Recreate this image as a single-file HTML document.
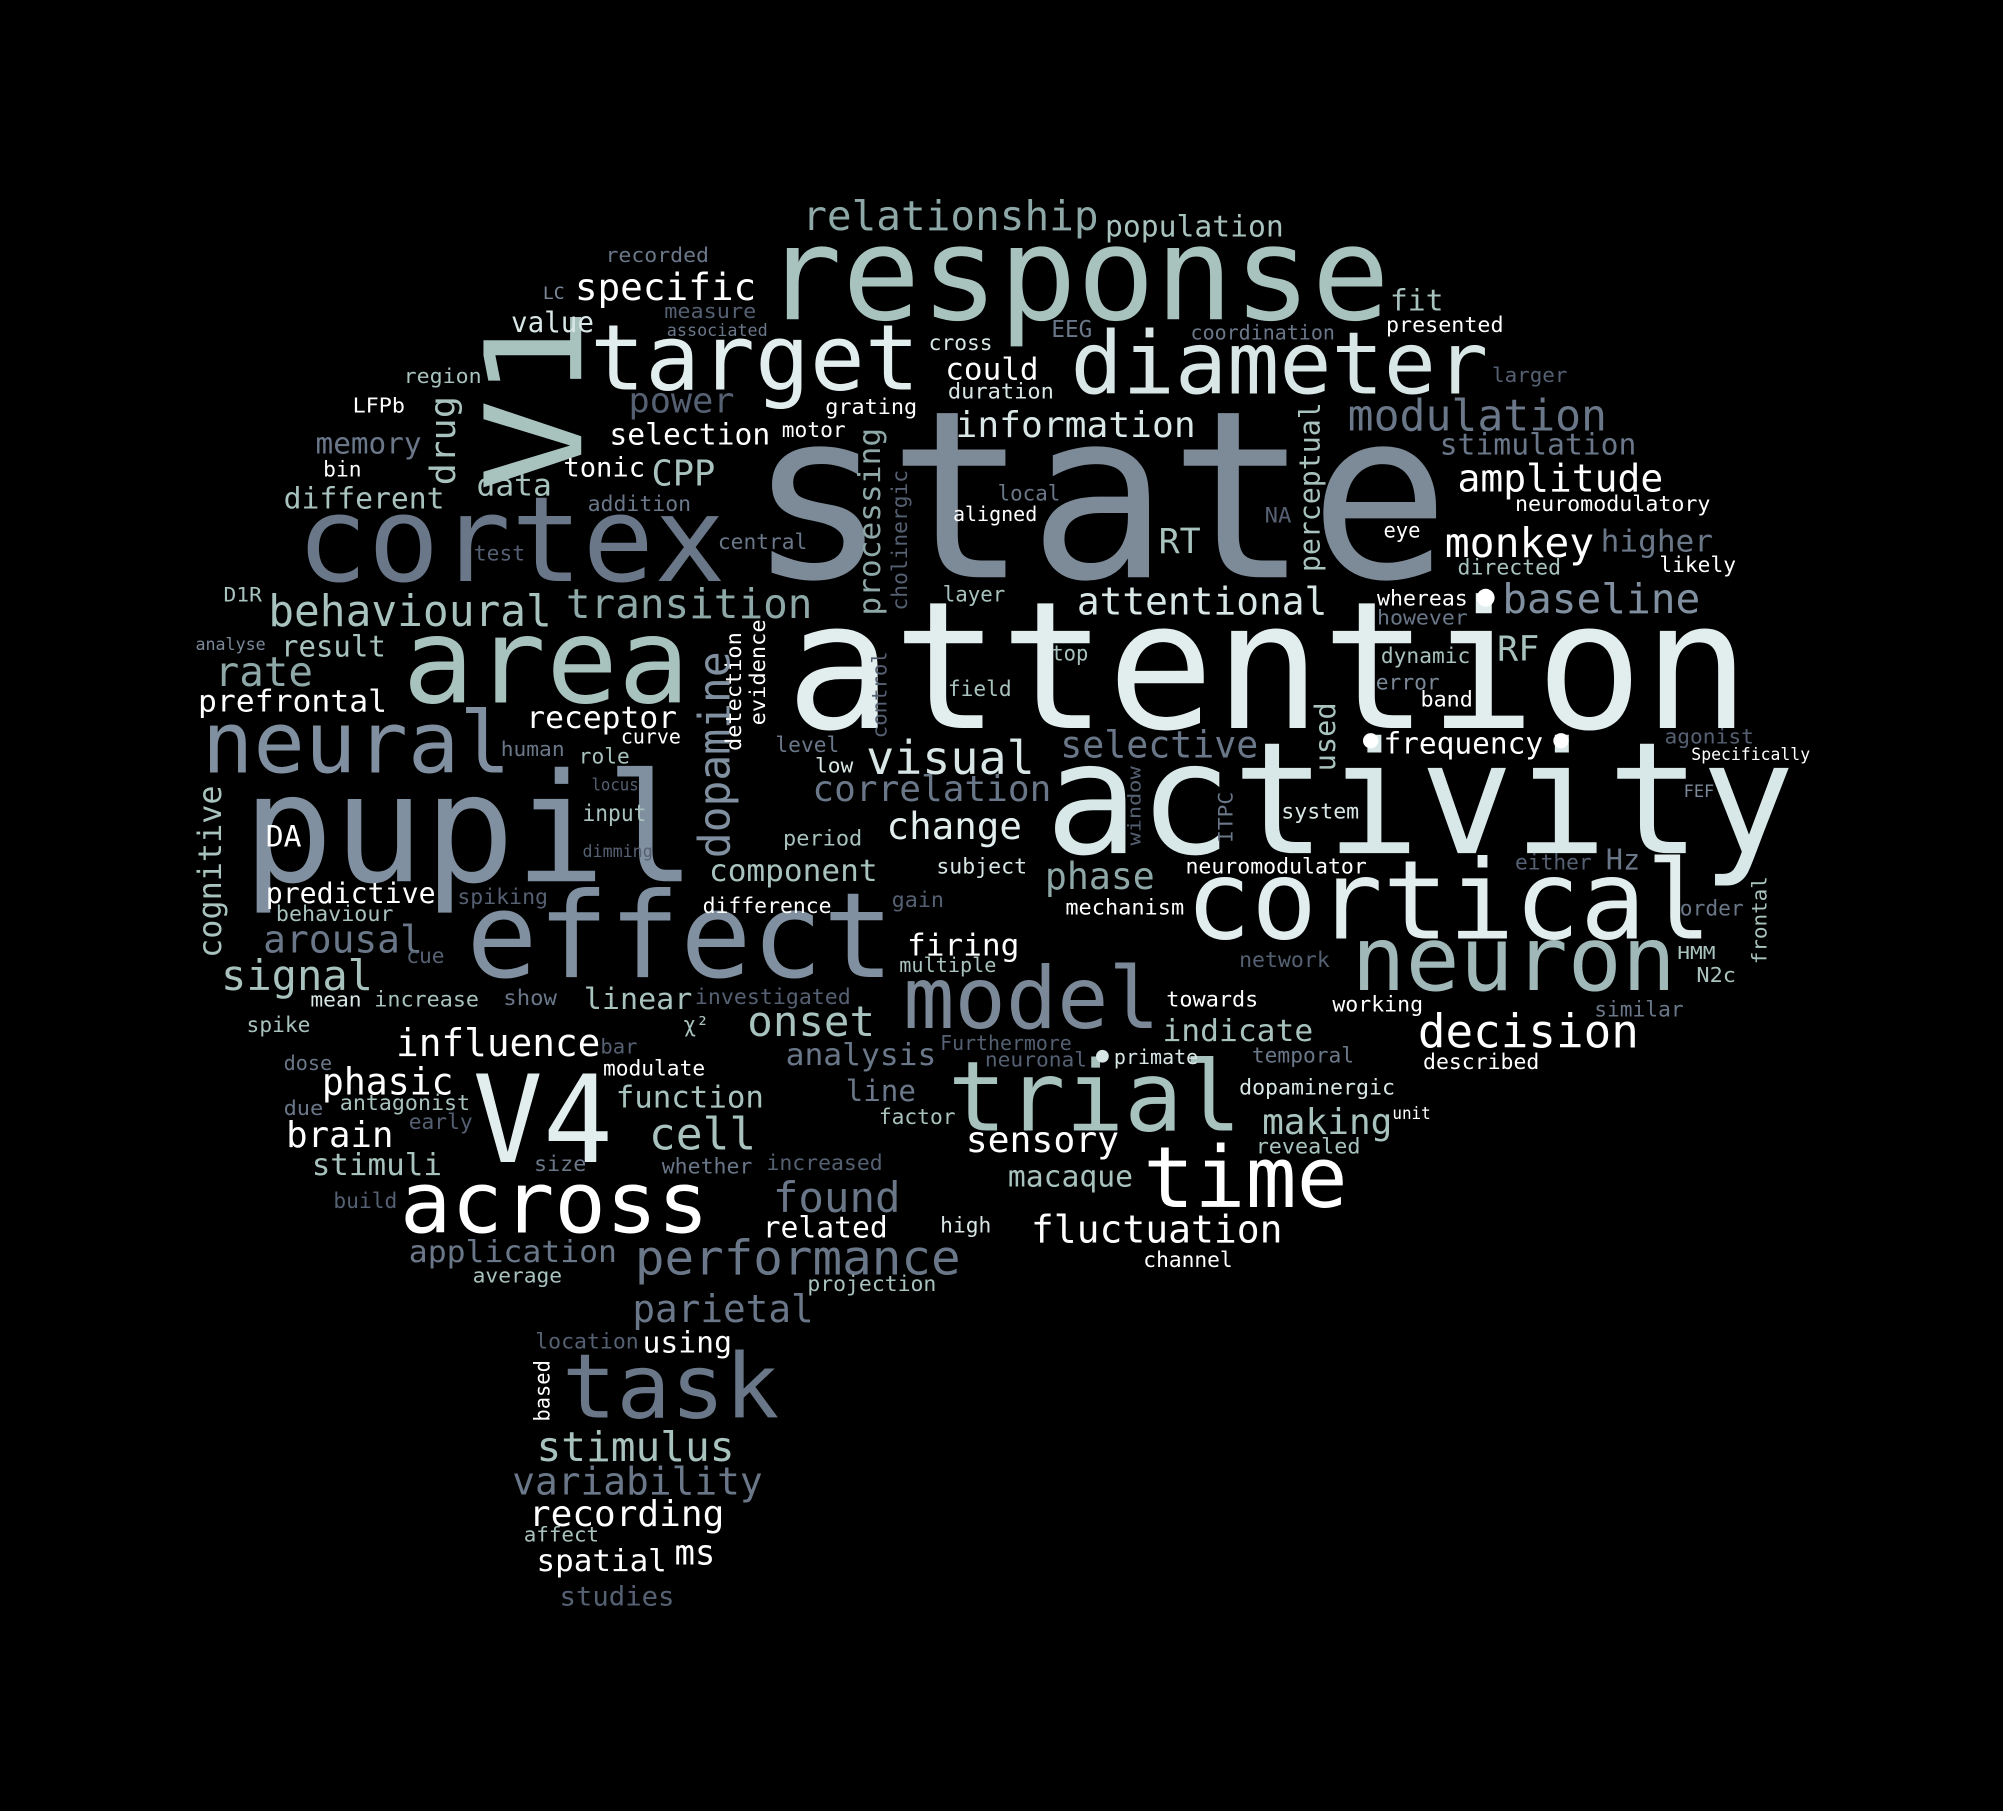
<!DOCTYPE html>
<html><head><meta charset="utf-8">
<style>
html,body{margin:0;padding:0;background:#000;}
svg{display:block;}
text{font-family:"DejaVu Sans Mono","Liberation Mono",monospace;}
</style></head>
<body>
<svg id="cloud" width="2003" height="1811" viewBox="0 0 1568 1418" preserveAspectRatio="none" xmlns="http://www.w3.org/2000/svg">
<rect width="1568" height="1418" fill="#000"/>
</svg>
<script>
// [text, x, y(baseline), length, fontSize, color, rotation]
const W = "#ffffff", L = "#e2eeee", T = "#a8c2be", S = "#8090a0", D = "#6a7789", K = "#556072";
const words = [
["state",585,452,550,183,"#7d8b99",0],
["attention",615,570,755,139,L,0],
["activity",818,668,587,122,"#d8e8e8",0],
["response",598,250,490,102,T,0],
["pupil",190,690,355,118,S,0],
["cortex",232,455,336,93,D,0],
["area",315,550,225,93,T,0],
["effect",365,765,335,93,S,0],
["cortical",928,735,412,86,L,0],
["neuron",1058,775,254,70,"#a0b8b8",0],
["trial",742,885,230,76,T,0],
["model",707,805,201,67,"#7a8898",0],
["diameter",838,308,327,68,"#d8e6e6",0],
["target",462,305,258,71,L,0],
["V1",455,385,145,105,T,-90],
["neural",158,605,242,67,S,0],
["V4",370,910,110,95,L,0],
["across",313,965,242,67,W,0],
["time",895,945,160,66,W,0],
["task",440,1110,170,70,D,0],
["decision",1110,820,173,36,W,0],
["relationship",628,180,232,32,"#8ea8a8",0],
["population",865,185,140,23,T,0],
["specific",450,235,142,29,W,0],
["value",400,260,65,22,"#d8e6e6",0],
["fit",1088,243,42,23,T,0],
["presented",1085,260,92,17,W,0],
["cross",727,274,50,17,"#d8e6e6",0],
["EEG",823,264,32,18,D,0],
["coordination",932,266,113,16,D,0],
["measure",520,249,72,16,K,0],
["associated",522,263,79,13,D,0],
["recorded",474,205,81,16,D,0],
["LC",425,234,17,13,"#7a8898",0],
["could",740,297,73,24,W,0],
["duration",742,312,83,17,"#d8e6e6",0],
["larger",1168,299,59,16,K,0],
["region",316,300,61,16,T,0],
["LFPb",276,323,41,16,W,0],
["power",492,323,83,27,K,0],
["grating",646,324,72,17,W,0],
["modulation",1055,337,203,34,D,0],
["information",748,342,188,28,"#d8e6e6",0],
["selection",477,348,126,23,W,0],
["motor",612,342,50,17,W,0],
["drug",356,380,70,27,T,-90],
["memory",247,355,83,23,D,0],
["stimulation",1127,356,154,23,D,0],
["processing",689,482,147,24,"#8ea8a8",-90],
["perceptual",1033,448,133,22,T,-90],
["bin",253,373,30,17,W,0],
["tonic",441,373,64,21,W,0],
["CPP",510,380,50,28,T,0],
["amplitude",1141,385,161,30,W,0],
["data",373,388,59,24,T,0],
["neuromodulatory",1186,400,153,17,W,0],
["cholinergic",710,478,110,17,K,-90],
["different",222,398,126,23,T,0],
["addition",460,400,81,17,D,0],
["local",781,392,49,17,D,0],
["aligned",746,408,66,16,W,0],
["NA",990,409,21,17,K,0],
["eye",1083,421,29,17,W,0],
["test",371,439,40,17,K,0],
["central",562,430,70,17,D,0],
["RT",907,433,33,27,T,0],
["monkey",1131,436,117,32,W,0],
["higher",1253,432,88,24,D,0],
["directed",1141,450,81,17,T,0],
["likely",1299,448,60,17,W,0],
["D1R",175,471,30,15,T,0],
["layer",738,471,49,17,T,0],
["behavioural",210,490,222,34,T,0],
["transition",443,484,193,32,"#8ea8a8",0],
["attentional",843,481,196,30,"#d8e6e6",0],
["whereas",1078,474,71,17,W,0],
["baseline",1176,480,155,32,S,0],
["however",1078,489,71,16,D,0],
["analyse",153,509,55,13,"#7a8898",0],
["result",220,514,82,23,T,0],
["dopamine",571,672,162,34,S,-90],
["detection",580,588,93,17,W,-90],
["evidence",599,568,83,17,W,-90],
["top",823,517,29,17,T,0],
["dynamic",1081,519,70,17,T,0],
["RF",1172,517,33,27,T,0],
["rate",168,537,77,32,"#8ea8a8",0],
["control",694,578,68,16,K,-90],
["error",1077,540,50,17,"#7a8898",0],
["field",742,545,50,17,T,0],
["band",1112,553,41,17,W,0],
["prefrontal",155,557,148,24,W,0],
["receptor",412,570,118,24,W,0],
["used",1045,604,54,22,T,-90],
["curve",486,582,47,16,W,0],
["selective",830,593,155,29,D,0],
["frequency",1083,590,125,23,W,0],
["human",392,592,50,16,D,0],
["level",607,589,50,17,D,0],
["agonist",1303,582,70,16,K,0],
["role",453,598,40,17,T,0],
["Specifically",1324,595,93,13,W,0],
["visual",678,606,132,36,"#d8e6e6",0],
["low",638,605,30,16,"#d8e6e6",0],
["locus",463,619,37,13,K,0],
["FEF",1318,624,24,13,"#7a8898",0],
["correlation",636,627,187,28,D,0],
["cognitive",173,750,135,25,T,-90],
["input",456,643,50,18,T,0],
["window",893,662,62,14,K,-90],
["ITPC",965,660,40,15,D,-90],
["system",1003,641,61,17,"#d8e6e6",0],
["DA",208,663,28,23,W,0],
["change",694,657,106,29,L,0],
["period",613,662,62,17,T,0],
["dimming",456,671,55,13,K,0],
["subject",733,684,71,17,"#d8e6e6",0],
["neuromodulator",928,684,142,17,W,0],
["either",1186,681,60,17,K,0],
["Hz",1257,681,27,22,D,0],
["component",555,690,132,24,T,0],
["phase",818,696,86,29,"#8ea8a8",0],
["frontal",1383,755,69,16,T,-90],
["predictive",208,707,133,22,W,0],
["spiking",358,708,71,17,K,0],
["gain",698,710,41,17,K,0],
["mechanism",834,716,93,17,W,0],
["order",1315,717,50,17,D,0],
["difference",550,715,101,17,W,0],
["behaviour",216,721,92,17,T,0],
["arousal",206,746,125,30,D,0],
["firing",710,748,88,24,W,0],
["multiple",704,761,76,16,T,0],
["network",970,757,71,17,K,0],
["HMM",1313,751,30,14,T,0],
["cue",318,754,30,17,K,0],
["N2c",1328,769,31,16,T,0],
["signal",173,775,119,33,T,0],
["mean",243,788,40,16,"#d8e6e6",0],
["increase",293,788,82,17,T,0],
["show",394,787,42,17,D,0],
["linear",457,790,85,23,T,0],
["investigated",544,786,122,17,K,0],
["towards",913,788,72,17,W,0],
["working",1043,792,71,17,W,0],
["similar",1248,796,70,17,D,0],
["spike",193,808,50,17,T,0],
["χ²",535,808,20,17,T,0],
["onset",585,811,100,33,T,0],
["indicate",910,815,118,24,T,0],
["influence",310,827,160,30,W,0],
["bar",470,825,29,16,K,0],
["Furthermore",736,822,103,16,K,0],
["analysis",615,834,118,24,D,0],
["dose",222,838,38,16,D,0],
["neuronal",771,835,80,16,K,0],
["primate",872,833,66,16,"#d8e6e6",0],
["temporal",980,832,80,17,D,0],
["described",1114,837,91,17,W,0],
["modulate",472,842,80,17,W,0],
["phasic",252,857,103,29,W,0],
["antagonist",266,869,102,17,T,0],
["function",482,867,116,24,T,0],
["line",662,862,55,23,D,0],
["dopaminergic",970,857,122,17,"#d8e6e6",0],
["due",222,873,31,16,D,0],
["early",320,884,50,17,K,0],
["factor",688,880,60,17,T,0],
["unit",1090,876,30,13,W,0],
["making",988,888,102,28,T,0],
["cell",508,900,84,35,T,0],
["brain",224,898,84,28,W,0],
["sensory",756,902,120,28,W,0],
["revealed",983,903,82,17,T,0],
["stimuli",244,920,102,24,T,0],
["size",418,917,41,17,D,0],
["whether",518,919,71,17,D,0],
["increased",600,916,91,17,K,0],
["macaque",789,929,98,23,T,0],
["build",261,946,50,17,K,0],
["found",605,949,100,33,D,0],
["high",736,965,40,17,"#d8e6e6",0],
["related",597,969,98,23,W,0],
["fluctuation",807,973,197,30,W,0],
["application",320,988,163,24,D,0],
["channel",895,992,70,17,W,0],
["performance",497,998,255,38,D,0],
["average",370,1004,70,16,T,0],
["projection",632,1011,101,17,T,0],
["parietal",495,1035,142,30,D,0],
["location",419,1056,81,17,K,0],
["using",503,1059,70,23,W,0],
["based",430,1113,48,17,W,-90],
["stimulus",420,1144,155,32,T,0],
["variability",401,1170,196,30,D,0],
["recording",414,1195,153,28,W,0],
["affect",410,1207,59,16,T,0],
["spatial",420,1230,102,24,W,0],
["ms",528,1225,32,27,W,0],
["studies",438,1257,90,21,K,0]
];
const dotX = [1163,1073,1222,863];
const dotY = [468,580,580,827];
const dotR = [7,6,6,5];
const dotC = [W,W,W,"#d8e6e6"];

const svg = document.getElementById('cloud');
const NS = "http://www.w3.org/2000/svg";
words.forEach(function(w){
  const t = document.createElementNS(NS,'text');
  t.textContent = w[0];
  t.setAttribute('font-size', w[4]);
  t.setAttribute('fill', w[5]);
  t.setAttribute('textLength', w[3]);
  t.setAttribute('lengthAdjust', 'spacingAndGlyphs');
  if (w[6] !== 0) {
    t.setAttribute('x', 0);
    t.setAttribute('y', 0);
    t.setAttribute('transform', 'translate(' + w[1] + ',' + w[2] + ') rotate(' + w[6] + ')');
  } else {
    t.setAttribute('x', w[1]);
    t.setAttribute('y', w[2]);
  }
  
  
  svg.appendChild(t);
});
dotX.forEach(function(x, i){
  const c = document.createElementNS(NS,'circle');
  c.setAttribute('cx', x);
  c.setAttribute('cy', dotY[i]);
  c.setAttribute('r', dotR[i]);
  c.setAttribute('fill', dotC[i]);
  
  
  svg.appendChild(c);
});
</script>
</body></html>
